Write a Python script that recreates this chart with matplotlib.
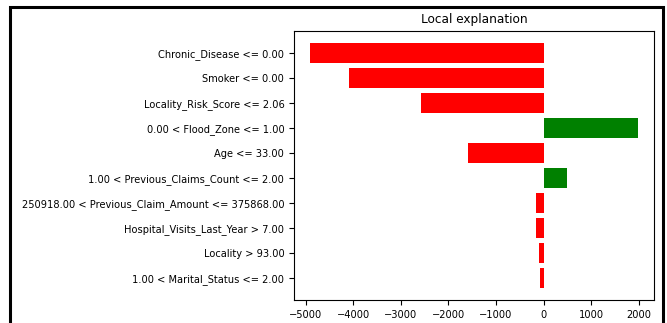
import matplotlib.pyplot as plt
from matplotlib.patches import Rectangle

# LIME-style local explanation (top to bottom)
features = [
    "Chronic_Disease <= 0.00",
    "Smoker <= 0.00",
    "Locality_Risk_Score <= 2.06",
    "0.00 < Flood_Zone <= 1.00",
    "Age <= 33.00",
    "1.00 < Previous_Claims_Count <= 2.00",
    "250918.00 < Previous_Claim_Amount <= 375868.00",
    "Hospital_Visits_Last_Year > 7.00",
    "Locality > 93.00",
    "1.00 < Marital_Status <= 2.00",
]
weights = [-4900, -4090, -2580, 1975, -1595, 485, -150, -150, -105, -80]

# barh draws bottom-up, so reverse
feat_r = features[::-1]
w_r = weights[::-1]
colors = ['green' if w > 0 else 'red' for w in w_r]

fig = plt.figure(figsize=(6.67, 3.23), dpi=100)
ax = fig.add_axes([0.4408, 0.0712, 0.5397, 0.8328])
pos = list(range(len(w_r)))
ax.barh(pos, w_r, align='center', color=colors)
ax.set_yticks(pos)
ax.set_yticklabels(feat_r, fontsize=7.1)
ax.tick_params(axis='x', labelsize=7.1)
ax.set_title('Local explanation', fontsize=8.7)
ax.set_xticks([-5000, -4000, -3000, -2000, -1000, 0, 1000, 2000])

# screenshot frame
fig.patches.append(Rectangle((10 / 667, -0.1), (663 - 10) / 667, 1.1 - 7 / 323,
                             transform=fig.transFigure, fill=False,
                             edgecolor='black', linewidth=2.2))

fig.savefig('out.png', dpi=100)
